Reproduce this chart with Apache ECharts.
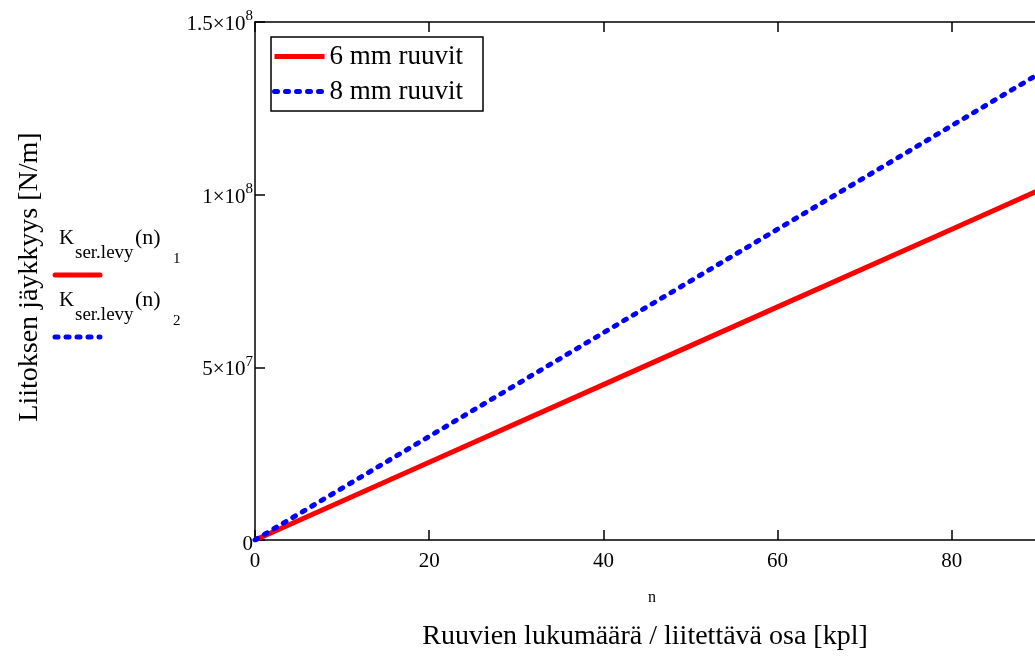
<!DOCTYPE html>
<html>
<head>
<meta charset="utf-8">
<script src="https://cdn.jsdelivr.net/npm/echarts@6/dist/echarts.min.js"></script>
<style>
  html, body { margin: 0; padding: 0; background: #fff; overflow: hidden; }
  #chart { width: 1035px; height: 657px; }
</style>
</head>
<body>
<div id="chart"></div>
<script>
// Number of screws per joined member
const nValues = [0, 20, 40, 60, 80, 100];
// Joint stiffness K_ser.levy(n) [N/m]
const stiffness6mm = [0, 2.25e7, 4.5e7, 6.75e7, 9.0e7, 1.125e8];
const stiffness8mm = [0, 3.0e7, 6.0e7, 9.0e7, 1.2e8, 1.5e8];
const seriesNames = ['6 mm ruuvit', '8 mm ruuvit'];
// y tick labels as mantissa / exponent pairs
const yTickLabels = {
  0: ['0', ''],
  50000000: ['5\u00d710', '7'],
  100000000: ['1\u00d710', '8'],
  150000000: ['1.5\u00d710', '8']
};
const xTitle = 'Ruuvien lukumäärä / liitettävä osa [kpl]';
const yTitle = 'Liitoksen jäykkyys [N/m]';
const xVarName = 'n';

const FONT = '"Liberation Serif", "Times New Roman", serif';
const toPairs = (ys) => nValues.map((n, i) => [n, ys[i]]);

const chart = echarts.init(document.getElementById('chart'), null, { renderer: 'canvas' });

const axisLineStyle = { color: '#000', width: 1.5 };

// trace label "K_ser.levy(n)_i" with its sample line
function traceLabel(idx, dy, color, dash) {
  const t = (text, x, y, size) => ({
    type: 'text', x: x, y: y + dy,
    style: { text: text, fontFamily: FONT, fontSize: size, fill: '#000', textVerticalAlign: 'bottom' }
  });
  return [
    t('K', 59, 249, 21),
    t('ser.levy', 75, 263, 19),
    t('(n)', 135, 249, 22),
    t(String(idx), 173, 267, 15),
    {
      type: 'line', shape: { x1: 55, y1: 275 + dy, x2: 100, y2: 275 + dy },
      style: { stroke: color, lineWidth: 5, lineCap: 'round', lineDash: dash }
    }
  ];
}

chart.setOption({
  backgroundColor: '#fff',
  animation: false,
  grid: {
    left: 255, top: 22, width: 871, bottom: 117,
    containLabel: false, outerBoundsMode: 'none'
  },
  legend: {
    orient: 'vertical',
    left: 271,
    top: 37,
    padding: [6, 20, 6, 1],
    itemGap: 8,
    itemWidth: 50,
    itemHeight: 27,
    borderColor: '#000',
    borderWidth: 1.5,
    backgroundColor: '#fff',
    itemStyle: { opacity: 0 },
    lineStyle: { width: 5 },
    textStyle: { fontFamily: FONT, fontSize: 27, color: '#000' },
    data: seriesNames
  },
  xAxis: [
    {
      type: 'value', min: 0, max: 100, interval: 20, position: 'bottom',
      axisLine: { show: true, onZero: false, lineStyle: axisLineStyle },
      axisTick: { show: true, inside: true, length: 10, lineStyle: axisLineStyle },
      splitLine: { show: false },
      axisLabel: { fontFamily: FONT, fontSize: 21, color: '#000', margin: 11 }
    },
    {
      type: 'value', min: 0, max: 100, interval: 20, position: 'top',
      axisLine: { show: true, onZero: false, lineStyle: axisLineStyle },
      axisTick: { show: true, inside: true, length: 10, lineStyle: axisLineStyle },
      splitLine: { show: false },
      axisLabel: { show: false }
    }
  ],
  yAxis: {
    type: 'value', min: 0, max: 1.5e8, interval: 5e7,
    axisLine: { show: true, onZero: false, lineStyle: axisLineStyle },
    axisTick: { show: true, inside: true, length: 10, lineStyle: axisLineStyle },
    splitLine: { show: false },
    axisLabel: {
      margin: 2,
      formatter: (v) => {
        const p = yTickLabels[v] || [String(v), ''];
        return p[1] ? '{m|' + p[0] + '}{s|' + p[1] + '}' : '{z|' + p[0] + '}';
      },
      rich: {
        m: { fontFamily: FONT, fontSize: 21, color: '#000', verticalAlign: 'bottom' },
        z: { fontFamily: FONT, fontSize: 21, color: '#000', padding: [8, 0, 0, 0] },
        s: { fontFamily: FONT, fontSize: 15, color: '#000', verticalAlign: 'bottom', padding: [0, 0, 11, 0] }
      }
    }
  },
  graphic: [
    {
      type: 'text', x: 30, y: 277, rotation: Math.PI / 2,
      style: { text: yTitle, fontFamily: FONT, fontSize: 28, fill: '#000', textAlign: 'center', textVerticalAlign: 'middle' }
    },
    {
      type: 'text', x: 645, y: 637,
      style: { text: xTitle, fontFamily: FONT, fontSize: 28, fill: '#000', textAlign: 'center', textVerticalAlign: 'middle' }
    },
    {
      type: 'text', x: 652, y: 598,
      style: { text: xVarName, fontFamily: FONT, fontSize: 16, fill: '#000', textAlign: 'center', textVerticalAlign: 'middle' }
    }
  ].concat(traceLabel(1, 0, '#ff0000', null), traceLabel(2, 62, '#0000ff', [3, 8])),
  series: [
    {
      name: seriesNames[0], type: 'line', data: toPairs(stiffness6mm),
      symbol: 'none', clip: true,
      lineStyle: { color: '#ff0000', width: 5 },
      itemStyle: { color: '#ff0000' }
    },
    {
      name: seriesNames[1], type: 'line', data: toPairs(stiffness8mm),
      symbol: 'none', clip: true,
      lineStyle: { color: '#0000ff', width: 5, type: [3, 8], cap: 'round' },
      itemStyle: { color: '#0000ff' }
    }
  ]
});
</script>
</body>
</html>
